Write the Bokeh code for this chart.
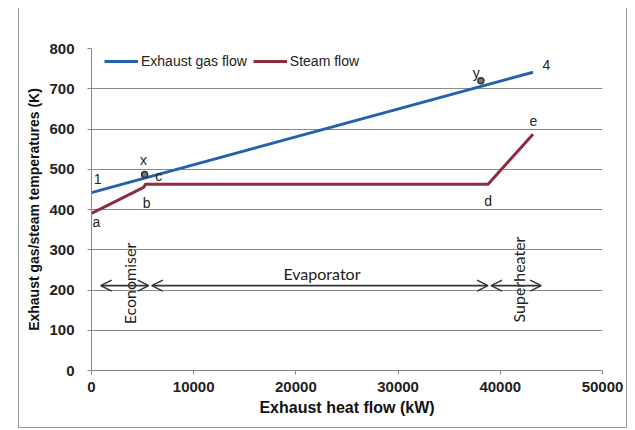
from bokeh.plotting import figure
from bokeh.models import Arrow, OpenHead, Legend, LegendItem, FixedTicker, Range1d
from bokeh.core.properties import value
from bokeh.embed import file_html
from bokeh.resources import INLINE
import math

# Data
gas_x = [0, 43200]
gas_y = [442, 741]
steam_x = [0, 5100, 5300, 38800, 43200]
steam_y = [390, 455, 463, 463, 587]

marker_x = [5200, 38100]
marker_y = [487, 720]

pt_labels = ["1", "a", "x", "c", "b", "y", "4", "e", "d"]
pt_lx = [590, 490, 5100, 6570, 5390, 37650, 44500, 43240, 38820]
pt_ly = [477, 368, 522, 484, 417, 740, 758, 621, 422]

zones = ["Economiser", "Evaporator", "Superheater"]
zone_start = [900, 5900, 39100]
zone_end = [5600, 38800, 44000]
zone_arrow_y = 211
zone_lx = [3680, 22550, 41810]
zone_ly = [216, 241, 226]
zone_angle = [math.pi / 2, 0, math.pi / 2]

y_ticks = [0, 100, 200, 300, 400, 500, 600, 700, 800]
x_ticks = [0, 10000, 20000, 30000, 40000, 50000]

FONT = "Liberation Sans"

p = figure(width=609, height=420, output_backend="svg", toolbar_location=None,
           x_range=Range1d(0, 50000), y_range=Range1d(0, 800),
           min_border_left=72, min_border_right=26, min_border_top=40, min_border_bottom=58,
           styles={"margin-left": "18px", "margin-top": "8px", "border-left": "1px solid #999",
                   "border-right": "1px solid #999", "border-bottom": "1px solid #999"})
p.outline_line_color = None
p.xgrid.grid_line_color = None
p.ygrid.grid_line_color = "#8a8a8a"
p.ygrid.grid_line_width = 1

p.xaxis.ticker = FixedTicker(ticks=x_ticks)
p.yaxis.ticker = FixedTicker(ticks=y_ticks)
for ax in (p.xaxis, p.yaxis):
    ax.axis_line_color = "#888888"
    ax.major_tick_line_color = "#888888"
    ax.minor_tick_line_color = None
    ax.major_tick_in = 0
    ax.major_tick_out = 4
    ax.major_label_text_font = FONT
    ax.major_label_text_font_style = "bold"
    ax.major_label_text_font_size = "15px"
    ax.major_label_text_color = "#222222"
    ax.axis_label_text_font = FONT
    ax.axis_label_text_font_style = "bold"
    ax.axis_label_text_color = "#111111"
p.xaxis.axis_label_text_font_size = "16px"
p.yaxis.axis_label_text_font_size = "14px"
p.xaxis.major_label_standoff = 7
p.yaxis.major_label_standoff = 13
p.xaxis.axis_label = "Exhaust heat flow (kW)"
p.yaxis.axis_label = "Exhaust gas/steam temperatures (K)"
p.xaxis.axis_label_standoff = 4
p.yaxis.axis_label_standoff = 4
p.xaxis.formatter.use_scientific = False

gas = p.line(gas_x, gas_y, line_color="#2462ad", line_width=3)
steam = p.line(steam_x, steam_y, line_color="#8e2b42", line_width=3)

p.scatter(marker_x, marker_y, size=6, fill_color="#777777", line_color="#333333", line_width=1.5)

p.text(pt_lx, pt_ly, text=pt_labels, text_font=value(FONT), text_font_size="14px",
       text_color="#222222", text_align="center", text_baseline="middle")

for s, e in zip(zone_start, zone_end):
    p.add_layout(Arrow(x_start=s, x_end=e, y_start=zone_arrow_y, y_end=zone_arrow_y,
                       line_color="#333333", line_width=1.8,
                       start=OpenHead(size=11, line_color="#333333", line_width=1.5),
                       end=OpenHead(size=11, line_color="#333333", line_width=1.5)))

p.text(zone_lx, zone_ly, text=zones, angle=zone_angle, text_font=value("Lato"),
       text_font_size="16px", text_color="#222222", text_align="center", text_baseline="middle")

legend = Legend(items=[LegendItem(label="Exhaust gas flow", renderers=[gas]),
                       LegendItem(label="Steam flow", renderers=[steam])],
                orientation="horizontal", location=(13, 299),
                background_fill_alpha=0, border_line_color=None,
                glyph_width=34, label_standoff=3, spacing=6, padding=0, margin=0,
                label_text_font=FONT, label_text_font_size="14px", label_text_color="#222222")
p.add_layout(legend)

open("out.html", "w").write(file_html(p, INLINE))
